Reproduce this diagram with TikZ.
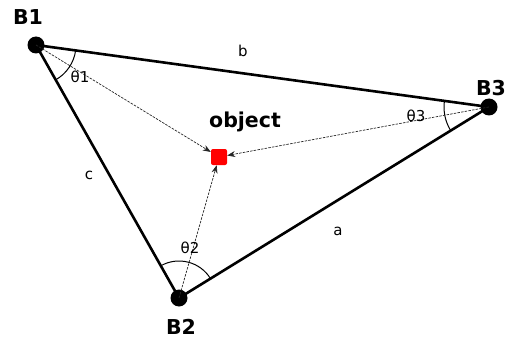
\documentclass[tikz,border=0pt]{standalone}
\usepackage{fontspec}
\setmainfont{DejaVu Sans}
\usetikzlibrary{arrows.meta,angles}
\begin{document}
\begin{tikzpicture}[x=1pt,y=-1pt,
  side/.style={line width=2.6pt},
  ray/.style={dash pattern=on 2.5pt off 1.2pt,line width=0.7pt,draw=black!85,-{Stealth[length=8pt,width=6pt]}},
  angarc/.style={draw,line width=1pt},
  bdot/.style={circle,fill=black,inner sep=0pt,minimum size=17pt},
  blabel/.style={font=\fontsize{20.5}{20.5}\selectfont\bfseries},
  slabel/.style={font=\fontsize{15}{15}\selectfont},
  obj/.style={fill=red,rounded corners=2pt,inner sep=0pt,minimum size=16pt}]
\useasboundingbox (0,0) rectangle (511,342);
\coordinate (p1) at (36,45);
\coordinate (p2) at (179,298);
\coordinate (p3) at (489,107);
\draw[side] (p1) -- (p3) -- (p2) -- cycle;
\pic[angarc, angle radius=40pt] {angle = p2--p1--p3};
\pic[angarc, angle radius=37pt] {angle = p3--p2--p1};
\pic[angarc, angle radius=45pt] {angle = p1--p3--p2};
\node[bdot] (B1) at (p1) {};
\node[bdot] (B2) at (p2) {};
\node[bdot] (B3) at (p3) {};
\node[obj] (O) at (219,157) {};
\draw[ray] (p1) -- (O);
\draw[ray] (p2) -- (O);
\draw[ray] (p3) -- (O);
\node[blabel] (L1) at (28,17) {B1};
\node[blabel] (L2) at (181,327) {B2};
\node[blabel] (L3) at (491,88) {B3};
\node[blabel] (LO) at (245,122) {object};
\node[slabel] (la) at (338,231) {a};
\node[slabel] (lb) at (243,51) {b};
\node[slabel] (lc) at (89,175) {c};
\node[slabel] (t1) at (80,77) {θ1};
\node[slabel] (t2) at (190,248) {θ2};
\node[slabel] (t3) at (416,116) {θ3};
\end{tikzpicture}
\end{document}
